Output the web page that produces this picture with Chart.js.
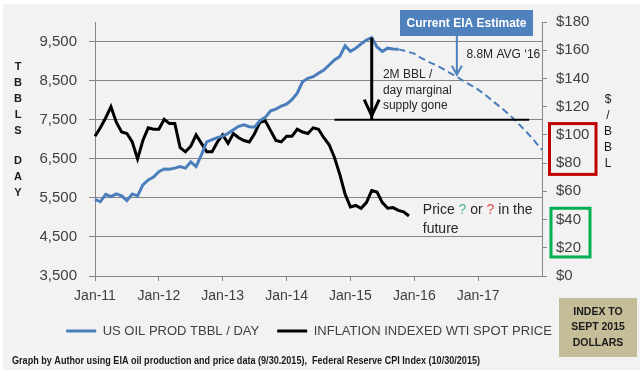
<!DOCTYPE html>
<html>
<head>
<meta charset="utf-8">
<script src="https://cdn.jsdelivr.net/npm/chart.js@4.4.1/dist/chart.umd.min.js"></script>
<style>
  html, body { margin: 0; padding: 0; background: #fff; }
  #wrap { width: 640px; height: 374px; }
</style>
</head>
<body>
<div id="wrap"><canvas id="oilChart" width="640" height="374"></canvas></div>
<script>
// Monthly categories Jan-11 .. Jan-18
const monthNames = ['Jan', 'Feb', 'Mar', 'Apr', 'May', 'Jun', 'Jul', 'Aug', 'Sep', 'Oct', 'Nov', 'Dec'];
const years = ['11', '12', '13', '14', '15', '16', '17', '18'];
const monthLabels = [];
years.forEach(y => monthNames.forEach(m => monthLabels.push(m + '-' + y)));
monthLabels.length = 85;

// US oil production, thousand bbl/day, Jan-11 .. Oct-15
const usProduction = [
    5460, 5400, 5590, 5530, 5600, 5550, 5430, 5600, 5550, 5830,
    5960, 6030, 6170, 6240, 6235, 6260, 6300, 6260, 6420, 6300,
    6600, 6930, 6990, 7040, 7080, 7150, 7240, 7330, 7370, 7320,
    7310, 7480, 7560, 7730, 7770, 7850, 7900, 8010, 8180, 8470,
    8560, 8600, 8690, 8770, 8900, 9030, 9120, 9390, 9250, 9330,
    9440, 9540, 9600, 9360, 9250, 9330, 9310, 9300
];
// EIA estimate, Oct-15 .. Jan-18 (dashed)
const forecastStart = 57;
const eiaEstimate = [
    9300, 9270, 9230, 9190, 9100, 9030, 8960, 8900, 8830, 8750,
    8670, 8600, 8510, 8430, 8350, 8270, 8170, 8060, 7950, 7840,
    7730, 7610, 7480, 7340, 7200, 7050, 6890, 6730
];
// Inflation indexed WTI spot price, $/bbl (Sept 2015 dollars)
const wtiPrice = [
    99, 105, 112, 120, 109, 102, 101, 95, 83, 96,
    105, 104, 104, 111, 108, 108, 91, 88, 92, 100,
    94, 88, 88, 95, 100, 94, 101, 98, 96, 95,
    101, 109, 110, 103, 96, 95, 99, 99, 104, 102,
    101, 105, 104, 98, 93, 84, 72, 58, 49, 50,
    48, 52, 60.5, 59.5, 52, 48, 48.5, 46.5, 45.5, 42.5
];

const leftTicks = [3500, 4500, 5500, 6500, 7500, 8500, 9500];
const rightTicks = [0, 20, 40, 60, 80, 100, 120, 140, 160, 180];
const marginalLevel = 7500;

const BLUE = '#4a7ebb';
const GRID = '#868686';
const TXT = '#404040';
const FONT = "'Liberation Sans', Arial, sans-serif";

const forecastData = new Array(forecastStart).fill(null).concat(eiaEstimate);

const decor = {
    id: 'decor',
    beforeDraw(chart) {
        const ctx = chart.ctx;
        ctx.save();
        ctx.fillStyle = '#ffffff';
        ctx.fillRect(0, 0, chart.width, chart.height);
        ctx.fillStyle = '#f2f2f2';
        ctx.fillRect(3, 4, chart.width - 3, 366);
        ctx.restore();
    },
    afterDraw(chart) {
        const ctx = chart.ctx;
        const xs = chart.scales.x, yl = chart.scales.y, yr = chart.scales.y1;
        const area = chart.chartArea;
        ctx.save();
        ctx.textBaseline = 'middle';

        // EIA estimate box
        ctx.fillStyle = '#4f81bd';
        ctx.fillRect(400, 10, 133, 26);
        ctx.fillStyle = '#ffffff';
        ctx.font = 'bold 12px ' + FONT;
        ctx.textAlign = 'center';
        ctx.fillText('Current EIA Estimate', 466.5, 23.5);

        // blue arrow pointing at the 2016 estimate
        const ax = xs.getPixelForValue(68);
        const aTip = yl.getPixelForValue(8650);
        ctx.strokeStyle = '#4f81bd';
        ctx.lineWidth = 2;
        ctx.beginPath();
        ctx.moveTo(ax, 36);
        ctx.lineTo(ax, aTip);
        ctx.moveTo(ax - 5, aTip - 9);
        ctx.lineTo(ax, aTip);
        ctx.lineTo(ax + 5, aTip - 9);
        ctx.stroke();

        ctx.textAlign = 'left';
        ctx.fillStyle = '#262626';
        ctx.font = '12px ' + FONT;
        ctx.fillText('8.8M AVG \u201816', xs.getPixelForValue(69.8), 55);

        // marginal supply line + arrow from the production peak
        const ly = yl.getPixelForValue(marginalLevel);
        ctx.strokeStyle = '#000';
        ctx.lineWidth = 2;
        ctx.beginPath();
        ctx.moveTo(xs.getPixelForValue(45), ly);
        ctx.lineTo(xs.getPixelForValue(81.6), ly);
        ctx.stroke();

        const peak = usProduction.indexOf(Math.max(...usProduction));
        const px = xs.getPixelForValue(peak);
        const py = yl.getPixelForValue(usProduction[peak]);
        ctx.lineWidth = 3;
        ctx.beginPath();
        ctx.moveTo(px, py);
        ctx.lineTo(px, ly);
        ctx.stroke();
        ctx.beginPath();
        ctx.moveTo(px - 7.5, ly - 20);
        ctx.lineTo(px, ly - 4);
        ctx.lineTo(px + 7.5, ly - 20);
        ctx.stroke();

        ctx.fillStyle = '#262626';
        ctx.font = '12px ' + FONT;
        const tx = xs.getPixelForValue(54.1);
        ctx.fillText('2M BBL /', tx, 75);
        ctx.fillText('day marginal', tx, 90.5);
        ctx.fillText('supply gone', tx, 106);

        // price question text
        ctx.font = '14px ' + FONT;
        let cx = xs.getPixelForValue(61.6);
        const parts = [['Price ', '#262626'], ['?', '#4fb3a4'], [' or ', '#262626'], ['?', '#d9534f'], [' in the', '#262626']];
        parts.forEach(p => {
            ctx.fillStyle = p[1];
            ctx.fillText(p[0], cx, 210);
            cx += ctx.measureText(p[0]).width;
        });
        ctx.fillStyle = '#262626';
        ctx.fillText('future', xs.getPixelForValue(61.6), 229);

        // boxes around the right axis labels
        ctx.lineWidth = 3;
        ctx.strokeStyle = '#c00000';
        ctx.strokeRect(area.right + 7.5, yr.getPixelForValue(108), 46.5, yr.getPixelForValue(72) - yr.getPixelForValue(108));
        ctx.strokeStyle = '#00b050';
        ctx.strokeRect(area.right + 9, yr.getPixelForValue(48), 39, yr.getPixelForValue(13.5) - yr.getPixelForValue(48));

        // axis titles (stacked letters)
        ctx.textAlign = 'center';
        ctx.fillStyle = '#1a1a1a';
        ctx.font = 'bold 11px ' + FONT;
        ['T', 'B', 'B', 'L', 'S'].forEach((c, i) => ctx.fillText(c, 18, 67 + i * 16));
        ['D', 'A', 'Y'].forEach((c, i) => ctx.fillText(c, 18, 161 + i * 16));
        ctx.font = '12px ' + FONT;
        ['$', '/', 'B', 'B', 'L'].forEach((c, i) => ctx.fillText(c, 608, 100 + i * 16));

        // index note box
        ctx.fillStyle = '#c4bd97';
        ctx.fillRect(559, 298, 78, 59);
        ctx.fillStyle = '#1a1a1a';
        ctx.font = 'bold 10.5px ' + FONT;
        ctx.fillText('INDEX TO', 598, 312);
        ctx.fillText('SEPT 2015', 598, 327.5);
        ctx.fillText('DOLLARS', 598, 343);

        // footer
        const foot = 'Graph by Author using EIA oil production and price data (9/30.2015),  Federal Reserve CPI Index (10/30/2015)';
        ctx.textAlign = 'left';
        ctx.font = 'bold 10px ' + FONT;
        const w = ctx.measureText(foot).width;
        ctx.translate(12, 361);
        ctx.scale(468 / w, 1);
        ctx.fillText(foot, 0, 0);
        ctx.restore();
    }
};

const ctx = document.getElementById('oilChart');
new Chart(ctx, {
    type: 'line',
    data: {
        labels: monthLabels,
        datasets: [{
            label: 'US OIL PROD TBBL / DAY',
            data: usProduction,
            yAxisID: 'y',
            borderColor: BLUE,
            backgroundColor: BLUE,
            borderWidth: 3,
            pointRadius: 0,
            tension: 0
        }, {
            label: 'EIA estimate',
            data: forecastData,
            yAxisID: 'y',
            borderColor: BLUE,
            backgroundColor: BLUE,
            borderWidth: 2,
            borderDash: [7, 4],
            pointRadius: 0,
            tension: 0
        }, {
            label: 'INFLATION INDEXED WTI SPOT PRICE',
            data: wtiPrice,
            yAxisID: 'y1',
            borderColor: '#000000',
            backgroundColor: '#000000',
            borderWidth: 3,
            pointRadius: 0,
            tension: 0
        }]
    },
    options: {
        responsive: false,
        animation: false,
        devicePixelRatio: 1,
        layout: { padding: { left: 4, right: 26, top: 22, bottom: 26.5 } },
        font: { family: FONT },
        plugins: {
            tooltip: { enabled: false },
            legend: {
                position: 'bottom',
                labels: {
                    boxWidth: 30,
                    boxHeight: 3,
                    padding: 18,
                    color: TXT,
                    font: { size: 13, family: FONT },
                    generateLabels: chart => Chart.defaults.plugins.legend.labels.generateLabels(chart)
                        .filter(l => l.datasetIndex !== 1)
                        .map(l => Object.assign(l, { fillStyle: l.strokeStyle, lineWidth: 0, lineDash: [] }))
                }
            }
        },
        scales: {
            x: {
                type: 'category',
                offset: false,
                afterBuildTicks: scale => {
                    scale.ticks = scale.ticks.filter(t => t.value % 12 === 0 && t.value < 84);
                },
                afterFit: scale => { scale.height = 30.5; },
                grid: { drawOnChartArea: false, drawTicks: true, tickLength: 5, color: GRID },
                border: { display: true, color: GRID },
                ticks: { autoSkip: false, maxRotation: 0, padding: 7, color: TXT, font: { size: 14, family: FONT } }
            },
            y: {
                position: 'left',
                min: 3500,
                max: 10000,
                afterBuildTicks: scale => { scale.ticks = leftTicks.map(v => ({ value: v })); },
                afterFit: scale => { scale.width = 91; },
                grid: { color: GRID, tickLength: 6 },
                border: { display: true, color: GRID },
                ticks: {
                    padding: 12,
                    color: TXT,
                    font: { size: 15, family: FONT },
                    callback: v => v.toLocaleString('en-US')
                }
            },
            y1: {
                position: 'right',
                min: 0,
                max: 180,
                afterBuildTicks: scale => { scale.ticks = rightTicks.map(v => ({ value: v })); },
                afterFit: scale => { scale.width = 72; },
                grid: { drawOnChartArea: false, drawTicks: true, tickLength: 5, color: GRID },
                border: { display: true, color: GRID },
                ticks: {
                    padding: 9,
                    color: TXT,
                    font: { size: 15, family: FONT },
                    callback: v => '$' + v
                }
            }
        }
    },
    plugins: [decor]
});
</script>
</body>
</html>
